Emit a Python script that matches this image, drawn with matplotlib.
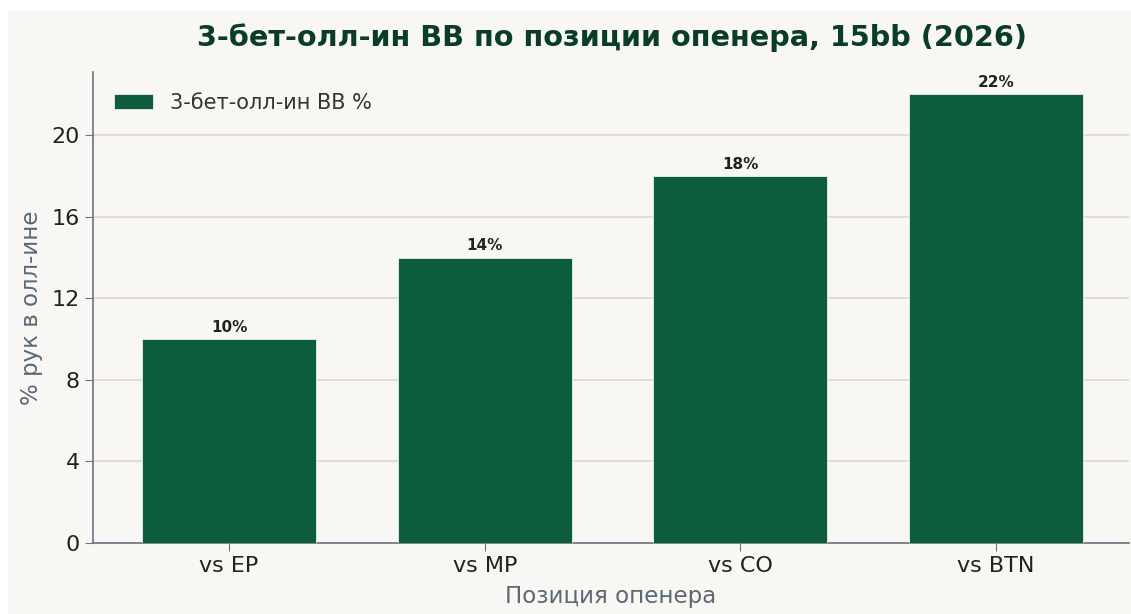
import matplotlib
matplotlib.use("Agg")
import matplotlib.pyplot as plt
from matplotlib.patches import Rectangle

# data
positions = ["vs EP", "vs MP", "vs CO", "vs BTN"]
allin_pct = [10, 14, 18, 22]
yticks = [0, 4, 8, 12, 16, 20]

bg = "#f8f7f3"
green = "#0d5c3c"

fig = plt.figure(figsize=(11.31, 6.14), dpi=100, facecolor="white")
# beige panel (picture is a slight crop with white strip top/left)
fig.patches.append(Rectangle((8 / 1131, 0), 1, 1 - 11 / 614, transform=fig.transFigure,
                             facecolor=bg, edgecolor="none", zorder=-10))

ax = fig.add_axes([93 / 1131, 1 - 543 / 614, 1036 / 1131, 471 / 614])
ax.set_facecolor(bg)

bars = ax.bar(positions, allin_pct, width=0.68, color=green, edgecolor="#e8efe9",
              linewidth=0.6, label="3-бет-олл-ин BB %", zorder=3)
for b, v in zip(bars, allin_pct):
    ax.text(b.get_x() + b.get_width() / 2, v + 0.22, f"{v}%", ha="center", va="bottom",
            fontsize=11, fontweight="bold", color="#222222")

ax.set_ylim(0, 23.1)
ax.set_xlim(-0.532, 3.52)
ax.set_yticks(yticks)
ax.grid(axis="y", color="#dcd6c9", linewidth=1.1, zorder=0)
ax.tick_params(axis="both", labelsize=16, colors="#6b7480", labelcolor="#222222", length=6)

for s in ["top", "right"]:
    ax.spines[s].set_visible(False)
for s in ["left", "bottom"]:
    ax.spines[s].set_color("#6b7480")
    ax.spines[s].set_linewidth(1.2)

ax.set_xlabel("Позиция опенера", fontsize=16.5, color="#5b6977", labelpad=6)
ax.set_ylabel("% рук в олл-ине", fontsize=16.5, color="#5b6977", labelpad=6)

fig.text(612 / 1131, 1 - 38 / 614, "3-бет-олл-ин BB по позиции опенера, 15bb (2026)",
         ha="center", va="center", fontsize=20.7, fontweight="bold", color="#0a3d26")

ax.legend(loc="upper left", frameon=False, fontsize=15, handlelength=1.9,
          borderaxespad=0.6, labelcolor="#333333")

fig.savefig("out.png", dpi=100, facecolor=fig.get_facecolor())
